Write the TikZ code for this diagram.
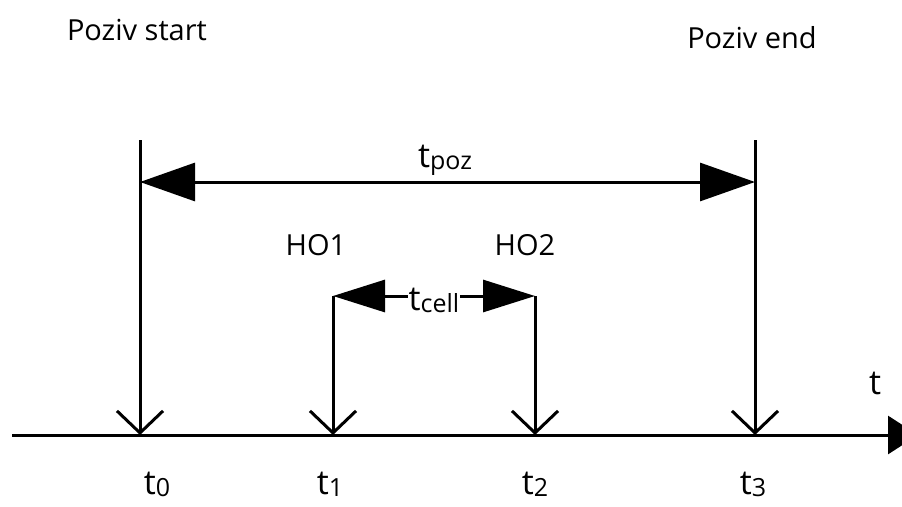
\documentclass[tikz,border=0pt]{standalone}
\usepackage{fontspec}
\setmainfont{Open Sans}
\usetikzlibrary{arrows.meta}
\tikzset{
  line/.style={line width=3pt, black},
  bigtip/.style={{Triangle[length=55pt,width=38pt]}-{Triangle[length=55pt,width=38pt]}},
  smalltip/.style={{Triangle[length=52pt,width=32pt]}-{Triangle[length=52pt,width=32pt]}},
  vtip/.style={-{Straight Barb[length=22pt,width=46pt,line width=3pt]}},
  lbl/.style={inner sep=0pt, font=\fontsize{29}{32}\selectfont},
  tlbl/.style={inner sep=0pt, font=\fontsize{34}{38}\selectfont},
}
\newcommand{\tsub}[1]{t{\fontsize{25}{26}\selectfont\raisebox{-2pt}{#1}}}
\begin{document}
\begin{tikzpicture}[x=1pt,y=-1pt]
\useasboundingbox (0,0) rectangle (902,506);
% coordinates
\coordinate (axL) at (12,435);
\coordinate (axR) at (918,435);
\coordinate (a0) at (140,435);
\coordinate (a1) at (333,435);
\coordinate (a2) at (535,435);
\coordinate (a3) at (755,435);
\coordinate (top0) at (140,140);
\coordinate (top3) at (755,140);
\coordinate (top1) at (333,296);
\coordinate (top2) at (535,296);
\coordinate (p0) at (140,182);
\coordinate (p3) at (755,182);
% axis
\draw[line, -{Triangle[length=30pt,width=38pt]}] (axL) -- (axR);
% verticals
\draw[line, vtip] (top0) -- (a0);
\draw[line, vtip] (top3) -- (a3);
\draw[line, vtip] (top1) -- (a1);
\draw[line, vtip] (top2) -- (a2);
% tpoz
\draw[line, bigtip] (p0) -- (p3);
\node[tlbl] (tpoz) at (445,160) {\tsub{poz}};
% tcell
\draw[line, smalltip] (top1) -- (top2);
\node[tlbl, fill=white, inner xsep=1pt, inner ysep=0pt] (tcell) at (434,300) {\tsub{cell}};
% labels
\node[lbl] (ps) at (137,30) {Poziv start};
\node[lbl] (pe) at (752,38) {Poziv end};
\node[lbl] (ho1) at (316,245) {HO1};
\node[lbl] (ho2) at (525,245) {HO2};
\node[tlbl] (t) at (875,383) {t};
\node[tlbl] (l0) at (157,484) {\tsub{0}};
\node[tlbl] (l1) at (330,484) {\tsub{1}};
\node[tlbl] (l2) at (535,484) {\tsub{2}};
\node[tlbl] (l3) at (753,484) {\tsub{3}};
\end{tikzpicture}
\end{document}
